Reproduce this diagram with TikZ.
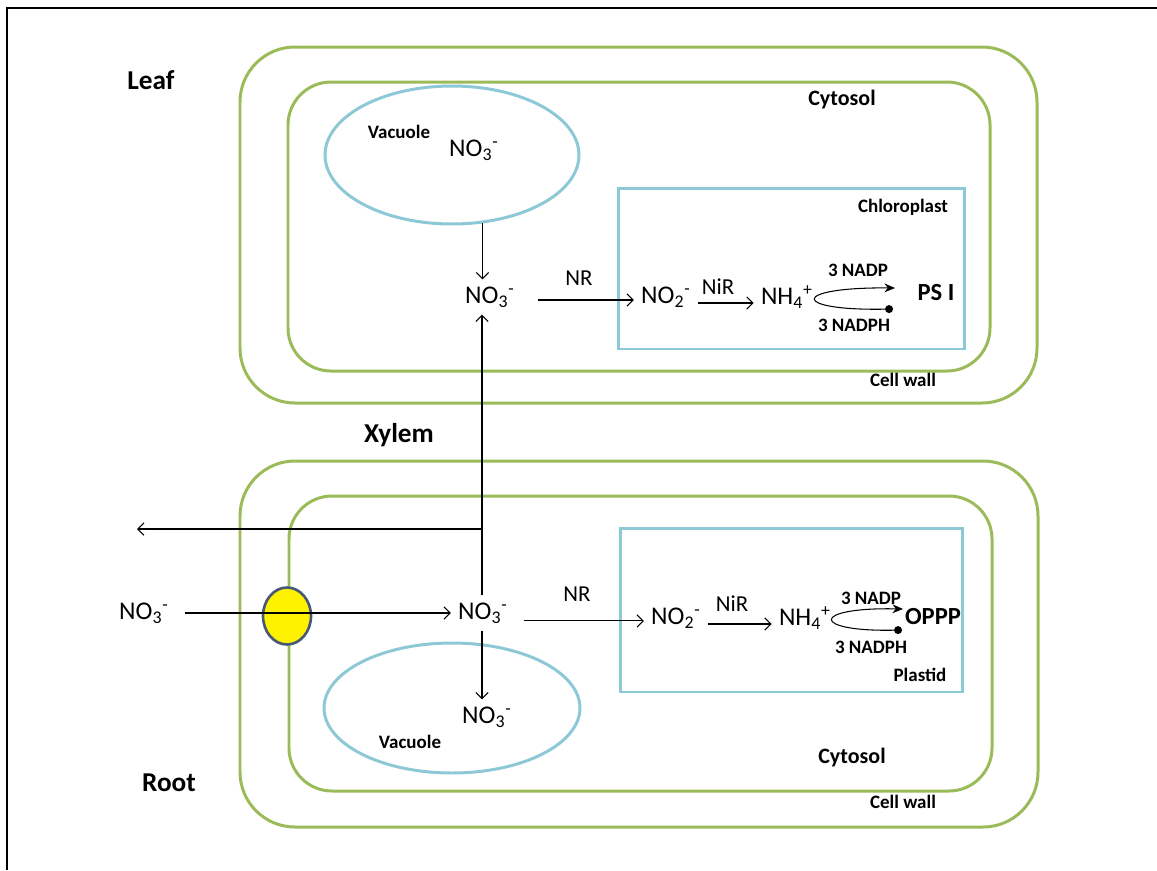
\documentclass[tikz,border=0pt]{standalone}
\usepackage{fontspec}
\setmainfont{Carlito}
\usetikzlibrary{arrows.meta, positioning, shapes.geometric}

\definecolor{wallgreen}{RGB}{155,187,89}
\definecolor{vacblue}{RGB}{140,200,213}
\definecolor{carrierblue}{RGB}{70,90,120}
\newcommand{\nitrate}{NO\textsubscript{3}\textsuperscript{-}}

\begin{document}
\begin{tikzpicture}[x=0.02cm, y=-0.02cm]
	\tikzstyle{wall} = [draw=wallgreen, line width=1.7pt, rounded corners=1.1cm]
	\tikzstyle{cyto} = [draw=wallgreen, line width=1.7pt, rounded corners=0.86cm]
	\tikzstyle{organelle} = [draw=vacblue, line width=1.7pt]
	\tikzstyle{ion} = [font=\fontsize{14.5}{16}\selectfont, inner sep=4pt]
	\tikzstyle{enzyme} = [font=\fontsize{13}{15}\selectfont, inner sep=1pt]
	\tikzstyle{tag} = [font=\bfseries\fontsize{10.8}{12}\selectfont, inner sep=1pt]
	\tikzstyle{bigtag} = [font=\bfseries\fontsize{12.5}{14}\selectfont, inner sep=1pt]
	\tikzstyle{sink} = [font=\bfseries\fontsize{14}{16}\selectfont, inner sep=1pt]
	\tikzstyle{title} = [font=\bfseries\fontsize{15.5}{18}\selectfont]
	\tikzstyle{arrow} = [line width=0.6pt, -{Straight Barb[length=3.5pt, width=7pt]}]
	\tikzstyle{redox} = [line width=0.6pt, {Circle[length=4.5pt]}-{Stealth[length=6pt, width=5pt]}]

	\useasboundingbox (0,0) rectangle (1157,870);
	\draw[line width=1.2pt] (7,870) -- (7,8) -- (1157,8);

	% leaf cell
	\draw[wall] (240,47) rectangle (1037,403);
	\draw[cyto] (288,82) rectangle (990,371);
	\node[organelle, ellipse, minimum width=5.08cm, minimum height=2.76cm](vacL) at (452,155){};
	\node[organelle, minimum width=6.94cm, minimum height=3.22cm](chloro) at (791.5,268.5){};

	\node[title](leaf) at (151,80){Leaf};
	\node[bigtag](cytL) at (842,100){Cytosol};
	\node[tag](cellL) at (903,380){Cell wall};
	\node[tag](vactagL) at (399,132){Vacuole};
	\node[ion](no3vacL) at (474,150){\nitrate};
	\node[tag](chlorotag) at (903,207){Chloroplast};

	\node[ion](no3L) at (490,297){\nitrate};
	\node[enzyme](nrL) at (579,278){NR};
	\node[ion](no2L) at (666,297){NO\textsubscript{2}\textsuperscript{-}};
	\node[enzyme](nirL) at (718,287){NiR};
	\node[ion](nh4L) at (787,297){NH\textsubscript{4}\textsuperscript{+}};
	\node[tag](nadpL) at (858,270){3 NADP};
	\node[tag](nadphL) at (854,325){3 NADPH};
	\node[sink](psi) at (936,293){PS I};

	\draw[arrow] (vacL.-66) to (vacL.-66 |- no3L.north);
	\draw[arrow, shorten <=9pt] ([yshift=-1.7pt]no3L.east) to ([yshift=-1.7pt]no3L.east -| no2L.west);
	\draw[arrow] ([yshift=-3.4pt]no2L.east) to ([yshift=-3.4pt]no2L.east -| nh4L.west);
	\coordinate (cycLtop) at (895,288);
	\coordinate (cycLbot) at (893,309);
	\draw[redox] (cycLbot) .. controls (790,311) and (790,287) .. (cycLtop);

	% root cell
	\draw[wall] (240,461) rectangle (1038,827);
	\draw[cyto] (289,496) rectangle (992,791);
	\node[organelle, ellipse, minimum width=5.12cm, minimum height=2.6cm](vacR) at (452,708){};
	\node[organelle, minimum width=6.86cm, minimum height=3.28cm](plastid) at (791.5,610){};
	\node[ellipse, draw=carrierblue, fill=yellow, line width=1.5pt, minimum width=0.96cm, minimum height=1.14cm](carrier) at (287,616){};

	\node[title](xylemtag) at (399,435){Xylem};
	\node[title](root) at (169,783){Root};
	\node[bigtag](cytR) at (852,758){Cytosol};
	\node[tag](cellR) at (903,802){Cell wall};
	\node[tag](vactagR) at (410,742){Vacuole};
	\node[ion](no3vacR) at (487,717){\nitrate};
	\node[tag](plastidtag) at (920,675){Plastid};

	\node[ion](no3out) at (144,613){\nitrate};
	\node[ion](no3R) at (483,613){\nitrate};
	\node[enzyme](nrR) at (577,594){NR};
	\node[ion](no2R) at (676,618){NO\textsubscript{2}\textsuperscript{-}};
	\node[enzyme](nirR) at (732,604){NiR};
	\node[ion](nh4R) at (805,618){NH\textsubscript{4}\textsuperscript{+}};
	\node[tag](nadpR) at (871,598){3 NADP};
	\node[tag](nadphR) at (871,647){3 NADPH};
	\node[sink](oppp) at (933,617){OPPP};

	\draw[arrow, shorten <=5pt] (no3out.east) to (no3out.east -| no3R.west);
	\draw[arrow, shorten <=5pt] ([yshift=-4.5pt]no3R.east) to ([yshift=-4.5pt]no3R.east -| no2R.west);
	\draw[arrow] ([yshift=-3.4pt]no2R.east) to ([yshift=-3.4pt]no2R.east -| nh4R.west);
	\coordinate (cycRtop) at (903,609);
	\coordinate (cycRbot) at (902,630);
	\draw[redox] (cycRbot) .. controls (810,632) and (810,607) .. (cycRtop);

	% xylem transport
	\coordinate (xylem) at (482,529);
	\coordinate (export) at (137,529);
	\draw[line width=0.6pt] (xylem |- no3R.north) to (xylem);
	\draw[arrow] (xylem) to (xylem |- no3L.south);
	\draw[arrow] (xylem) to (export);
	\draw[arrow] (xylem |- no3R.south) to (xylem |- no3vacR.north);

\end{tikzpicture}
\end{document}
